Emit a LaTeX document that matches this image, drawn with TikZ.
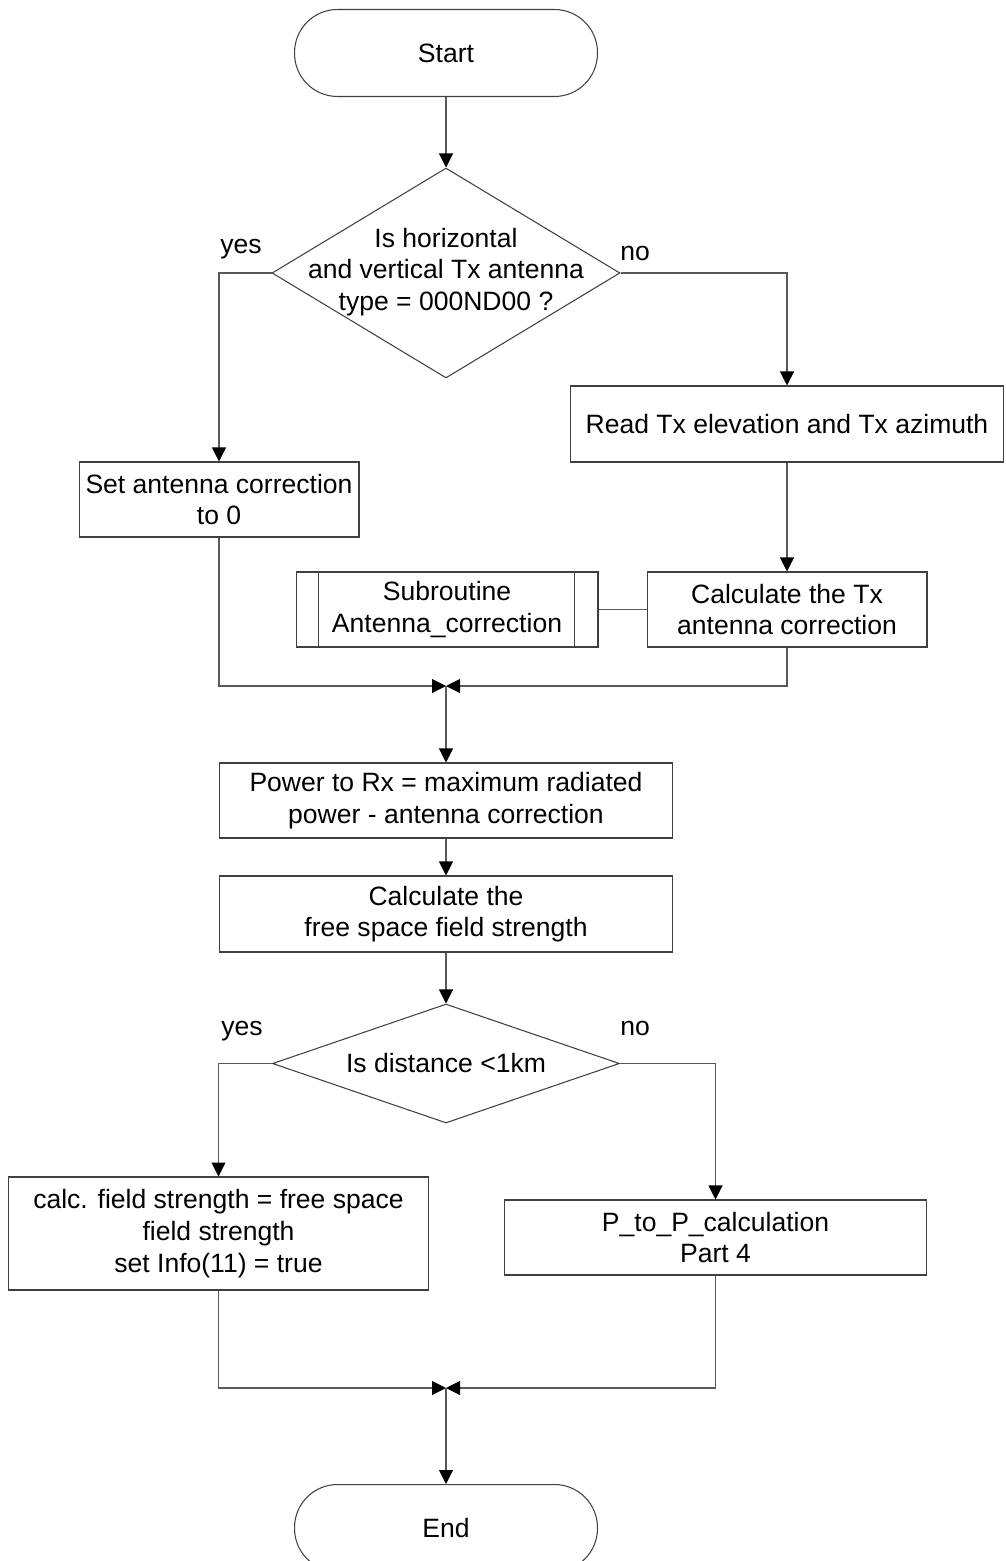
\documentclass[tikz,border=0pt]{standalone}
\usepackage{fontspec}
\setmainfont{Liberation Sans}
\usetikzlibrary{shapes.geometric,arrows.meta}

\begin{document}
\begin{tikzpicture}[x=0.02cm,y=-0.02cm,
  every node/.style={font=\fontsize{15.1}{18}\selectfont, align=center, inner sep=0pt},
  stepbox/.style={draw=black!75, line width=0.6pt, rectangle, fill=white},
  term/.style={draw=black!75, line width=0.6pt, rectangle, rounded corners=0.86cm,
               minimum width=6.06cm, minimum height=1.74cm},
  decide/.style={draw=black!75, line width=0.6pt, diamond},
  flow/.style={draw=black!65, line width=0.6pt},
  arr/.style={flow, -{Triangle[length=0.28cm, width=0.28cm, color=black]}},
  lbl/.style={anchor=base}
]
\useasboundingbox (0,0) rectangle (1005,1561);

% terminals
\node[term] (start) at (446,53) {Start};
\begin{scope}
  \clip (0,0) rectangle (1005,1561);
  \node[term] (stop) at (446,1528) {End};
\end{scope}

% first decision
\node[decide, minimum width=6.96cm, minimum height=4.2cm] (d1) at (446,273) {};
\node (d1t) at (446,272) {Is horizontal\\and vertical Tx antenna\\type = 000ND00 ?};
\node[lbl] (yes1) at (241,254) {yes};
\node[lbl] (no1) at (635,260) {no};

% branch boxes
\node[stepbox, minimum width=5.6cm, minimum height=1.5cm] (set) at (219,499.5)
  {Set antenna correction\\to 0};
\node[stepbox, minimum width=8.68cm, minimum height=1.52cm] (read) at (787,424)
  {Read Tx elevation and Tx azimuth};
\node[stepbox, minimum width=5.6cm, minimum height=1.5cm] (calctx) at (787,609.5)
  {Calculate the Tx\\antenna correction};
\node[stepbox, minimum width=6.04cm, minimum height=1.5cm] (sub) at (447,609.5)
  {Subroutine\\Antenna\_correction};
\draw[draw=black!75, line width=0.6pt] ([xshift=0.46cm]sub.north west) -- ([xshift=0.46cm]sub.south west);
\draw[draw=black!75, line width=0.6pt] ([xshift=-0.48cm]sub.north east) -- ([xshift=-0.48cm]sub.south east);

% main column
\coordinate (m1) at (446,686);
\node[stepbox, minimum width=9.08cm, minimum height=1.5cm] (power) at (446,800.5)
  {Power to Rx = maximum radiated\\power - antenna correction};
\node[stepbox, minimum width=9.08cm, minimum height=1.52cm] (free) at (446,914)
  {Calculate the\\free space field strength};

% second decision
\node[decide, minimum width=6.94cm, minimum height=2.38cm] (d2) at (446,1063.5) {};
\node (d2t) at (446,1063) {Is distance <1km};
\node[lbl] (yes2) at (242,1035) {yes};
\node[lbl] (no2) at (635,1035) {no};

\node[stepbox, minimum width=8.42cm, minimum height=2.26cm] (calc) at (218.5,1233.5)
  {calc. field strength = free space\\field strength\\set Info(11) = true};
\node[stepbox, minimum width=8.46cm, minimum height=1.5cm] (ptp) at (715.5,1237.5)
  {P\_to\_P\_calculation\\Part 4};
\coordinate (m2) at (446,1388);

% connectors
\draw[arr] (start) -- (d1.north);
\draw[arr] (d1.west) -| (set.north);
\draw[arr] (d1.east) -| (read.north);
\draw[arr] (read) -- (calctx.north);
\draw[flow] (sub) -- (calctx);
\draw[arr] (set.south) |- (m1);
\draw[arr] (calctx.south) |- (m1);
\draw[arr] (m1) -- (power.north);
\draw[arr] (power) -- (free.north);
\draw[arr] (free) -- (d2.north);
\draw[arr] (d2.west) -| (calc.north);
\draw[arr] (d2.east) -| (ptp.north);
\draw[arr] (calc.south) |- (m2);
\draw[arr] (ptp.south) |- (m2);
\draw[arr] (m2) -- (stop.north);
\end{tikzpicture}
\end{document}
